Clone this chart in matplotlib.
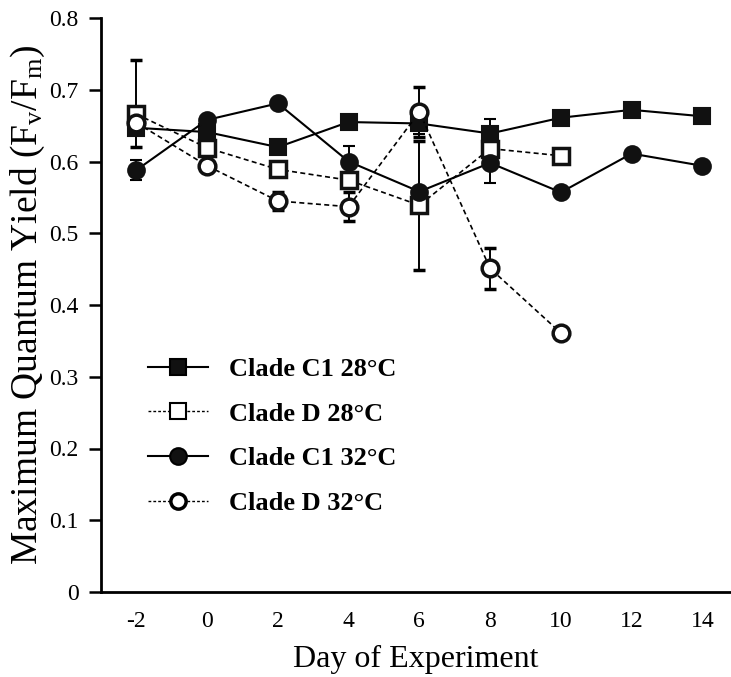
import numpy as np
import matplotlib
matplotlib.use('Agg')
import matplotlib.pyplot as plt
from matplotlib.lines import Line2D

plt.rcParams['font.family'] = ['Liberation Serif', 'DejaVu Serif']
plt.rcParams['mathtext.fontset'] = 'custom'
plt.rcParams['mathtext.rm'] = 'Liberation Serif'
plt.rcParams['mathtext.it'] = 'Liberation Serif:italic'

# Data
days = [-2, 0, 2, 4, 6, 8, 10, 12, 14]

c1_28 = [0.647, 0.641, 0.620, 0.655, 0.653, 0.639, 0.661, 0.672, 0.663]
c1_28_err = [0, 0, 0, 0, 0.015, 0.02, 0, 0, 0]

d_28 = [0.666, 0.619, 0.589, 0.574, 0.539, 0.618, 0.608]
d_28_lo = [0.046, 0, 0, 0, 0.09, 0, 0]
d_28_hi = [0.075, 0, 0, 0, 0.09, 0, 0]

c1_32 = [0.588, 0.658, 0.681, 0.600, 0.558, 0.598, 0.557, 0.611, 0.594]
c1_32_err = [0.014, 0, 0, 0.022, 0, 0.028, 0, 0, 0]

d_32 = [0.654, 0.594, 0.545, 0.537, 0.669, 0.451, 0.361]
d_32_err = [0, 0, 0.013, 0.02, 0.035, 0.029, 0]

labels = ['Clade C1 28\u00b0C', 'Clade D 28\u00b0C', 'Clade C1 32\u00b0C', 'Clade D 32\u00b0C']

fig = plt.figure(figsize=(7.31, 6.77), dpi=100)
ax = fig.add_axes([101 / 731, 85 / 677, 630 / 731, 574 / 677])

common = dict(color='black', ecolor='black', elinewidth=1.4, capsize=4,
              capthick=1.4, markersize=12, markeredgecolor='#111111')
solid = dict(lw=1.5, mfc='#111111', mew=1.5)
dashed = dict(ls=(0, (3, 2)), lw=1.2, mfc='white', mew=2.5)

ax.errorbar(days, c1_28, yerr=c1_28_err, fmt='-s', **solid, **common)
ax.errorbar(days[:len(d_28)], d_28, yerr=[d_28_lo, d_28_hi], fmt='s', **dashed, **common)
ax.errorbar(days, c1_32, yerr=c1_32_err, fmt='-o', **solid, **common)
ax.errorbar(days[:len(d_32)], d_32, yerr=d_32_err, fmt='o', **dashed, **common)

ax.set_xlim(-3, -3 + 630 / 35.375)
ax.set_ylim(0, 0.8)
ax.set_xticks(days)
ax.set_xticklabels([str(d) for d in days])
yt = np.round(np.arange(0, 0.81, 0.1), 1)
ax.set_yticks(yt)
ax.set_yticklabels(['0'] + [f'{v:.1f}' for v in yt[1:]])
ax.tick_params(axis='x', length=0, labelsize=17, pad=14)
ax.tick_params(axis='y', direction='out', length=9, width=1.8, labelsize=17, pad=7)

for s in ['top', 'right']:
    ax.spines[s].set_visible(False)
for s in ['left', 'bottom']:
    ax.spines[s].set_linewidth(2)

ax.set_xlabel('Day of Experiment', fontsize=23, labelpad=9)
ax.set_ylabel('Maximum Quantum Yield ($\\mathregular{F_v/F_m}$)', fontsize=27, labelpad=2)

# legend without error bar marks
handles = [
    Line2D([], [], color='black', marker='s', markersize=12, **solid),
    Line2D([], [], color='black', marker='s', markersize=11,
           ls=(0, (2, 1.5)), lw=1.0, mfc='white', mew=1.5),
    Line2D([], [], color='black', marker='o', markersize=12, **solid),
    Line2D([], [], color='black', marker='o', markersize=11,
           ls=(0, (2, 1.5)), lw=1.0, mfc='white', mew=2.5),
]
ax.legend(handles, labels, loc='upper left', bbox_to_anchor=(137 / 731, 1 - 347 / 677),
          bbox_transform=fig.transFigure, frameon=False,
          prop={'size': 19, 'weight': 'bold'}, handlelength=2.3,
          handletextpad=0.8, labelspacing=0.8, borderaxespad=0)

fig.savefig('out.png', dpi=100)
